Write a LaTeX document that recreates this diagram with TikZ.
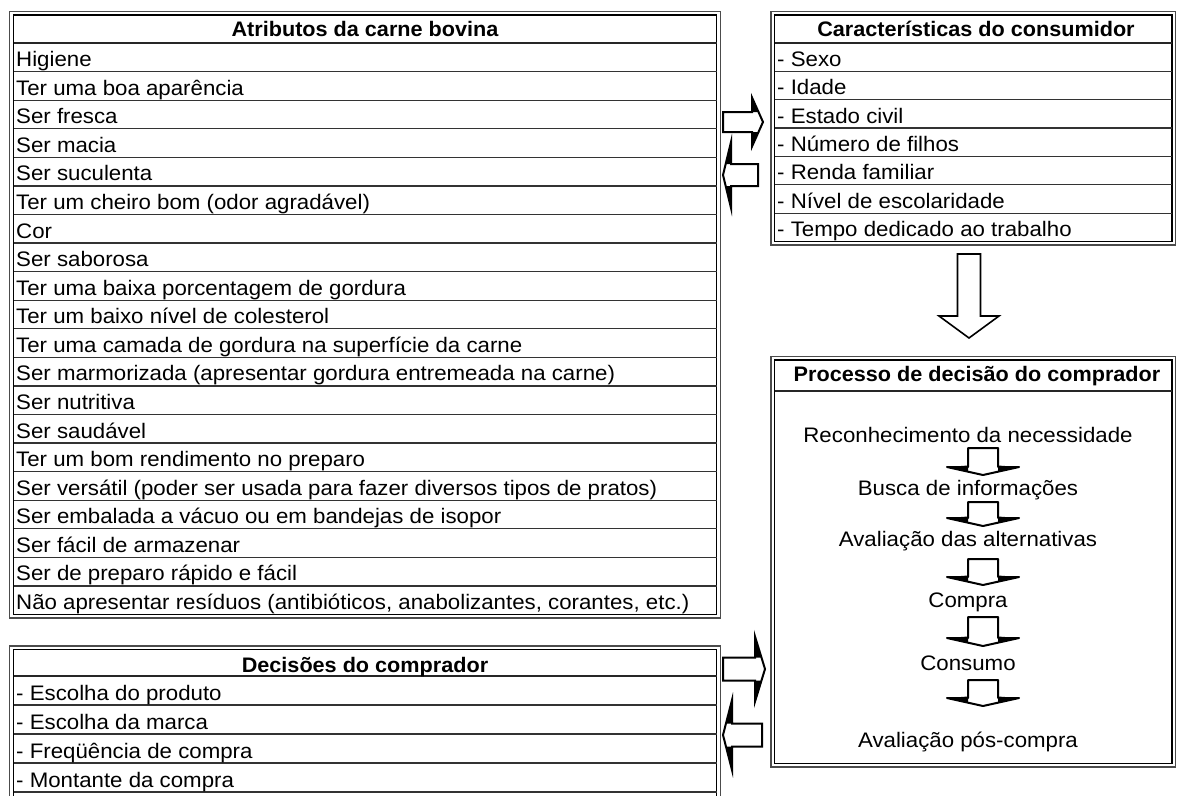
\documentclass[tikz,border=0pt]{standalone}
\usepackage{fontspec}
\setmainfont{Liberation Sans}[FakeStretch=1.06, BoldFeatures={FakeStretch=1.03}]
\begin{document}
\begin{tikzpicture}[x=1pt,y=-1pt,
  outerb/.style={draw=black!70, line width=1.6pt},
  innerb/.style={draw=black, line width=1.2pt},
  rowline/.style={draw=black!80, line width=1.3pt},
  headline/.style={draw=black!85, line width=2.4pt},
  cell/.style={anchor=base west, inner sep=0pt, font=\fontsize{21}{24}\selectfont},
  head/.style={anchor=base, inner sep=0pt, font=\fontsize{21}{24}\selectfont\bfseries},
  ctext/.style={anchor=base, inner sep=0pt, font=\fontsize{21}{24}\selectfont},
  blockarrow/.style={draw=black, fill=white, line width=2pt, line join=miter},
  bigarrow/.style={draw=black, fill=white, line width=1.6pt, line join=miter},
  wedge/.style={fill=black}
]
\path[use as bounding box] (0,0) rectangle (1177,795);
\clip (0,0) rectangle (1177,795);
\fill[white] (0,0) rectangle (1177,795);

% ---------- Table A: Atributos ----------
\draw[outerb] (9.5,11.5) rectangle (720.5,618);
\draw[innerb] (13.5,15) rectangle (716.5,614.5);
\draw[headline] (13.5,43) -- (716.5,43);
\foreach \k in {1,...,19} \draw[rowline] (13.5,{43+\k*28.575}) -- (716.5,{43+\k*28.575});
\node[head] (ha) at (365,36.5) {Atributos da carne bovina};
\foreach [count=\k from 0] \t in {Higiene, Ter uma boa aparência, Ser fresca, Ser macia, Ser suculenta,
  Ter um cheiro bom (odor agradável), Cor, Ser saborosa, Ter uma baixa porcentagem de gordura,
  Ter um baixo nível de colesterol, Ter uma camada de gordura na superfície da carne,
  Ser marmorizada (apresentar gordura entremeada na carne), Ser nutritiva, Ser saudável,
  Ter um bom rendimento no preparo, Ser versátil (poder ser usada para fazer diversos tipos de pratos),
  Ser embalada a vácuo ou em bandejas de isopor, Ser fácil de armazenar, Ser de preparo rápido e fácil,
  {Não apresentar resíduos (antibióticos, anabolizantes, corantes, etc.)}}
  \node[cell] (a\k) at (16,{43+(\k+1)*28.575-5}) {\t};

% ---------- Table B: Características ----------
\draw[outerb] (771,11.5) rectangle (1175.5,245);
\draw[innerb] (774.5,15) rectangle (1172,241.5);
\draw[headline] (774.5,43) -- (1172,43);
\foreach \k in {1,...,6} \draw[rowline] (774.5,{43+\k*28.36}) -- (1172,{43+\k*28.36});
\node[head] (hb) at (976,36.5) {Características do consumidor};
\foreach [count=\k from 0] \t in {- Sexo, - Idade, - Estado civil, - Número de filhos, - Renda familiar,
  - Nível de escolaridade, - Tempo dedicado ao trabalho}
  \node[cell] (b\k) at (777,{43+(\k+1)*28.36-5}) {\t};

% ---------- Table C: Processo ----------
\draw[outerb] (771,356.5) rectangle (1175.5,767);
\draw[innerb] (774.5,360) rectangle (1172,763.5);
\draw[headline] (774.5,391) -- (1172,391);
\node[head] (hc) at (977,381.5) {Processo de decisão do comprador};
\node[ctext] (p1) at (968,442) {Reconhecimento da necessidade};
\node[ctext] (p2) at (968,495) {Busca de informações};
\node[ctext] (p3) at (968,546) {Avaliação das alternativas};
\node[ctext] (p4) at (968,607) {Compra};
\node[ctext] (p5) at (968,670) {Consumo};
\node[ctext] (p6) at (968,747) {Avaliação pós-compra};
\foreach \tp/\wy in {448/467, 502/518, 559/577, 617/638, 680/698} {
  \draw[blockarrow, line join=round] (968,\tp) -- (968,\wy) -- (947,\wy) -- (983,{\wy+8})
     -- (1019,\wy) -- (998,\wy) -- (998,\tp) -- cycle;
  \fill[wedge] (947,\wy) -- (968,{\wy-1.5}) -- (968,{\wy+5}) -- cycle;
  \fill[wedge] (1019,\wy) -- (998,{\wy-1.5}) -- (998,{\wy+5}) -- cycle;
}

% ---------- Table D: Decisões ----------
\draw[outerb] (9.5,646) rectangle (720.5,820);
\draw[innerb] (13.5,649.5) rectangle (716.5,816);
\draw[headline] (13.5,676) -- (716.5,676);
\foreach \k in {1,...,4} \draw[rowline] (13.5,{676+\k*29}) -- (716.5,{676+\k*29});
\node[head] (hd) at (365,672) {Decisões do comprador};
\foreach [count=\k from 0] \t in {- Escolha do produto, - Escolha da marca, - Freqüência de compra, - Montante da compra}
  \node[cell] (d\k) at (16,{676+(\k+1)*29-5}) {\t};

% ---------- big down arrow B -> C ----------
\draw[bigarrow] (957.5,254) -- (957.5,316) -- (939,316) -- (969,338) -- (999,316)
   -- (980.5,316) -- (980.5,254) -- cycle;

% ---------- side arrows A <-> B ----------
\draw[blockarrow] (723,112) -- (752,112) -- (752,97.5) -- (763,122) -- (752,146.5)
   -- (752,132) -- (723,132) -- cycle;
\fill[wedge] (752,97.5) -- (752,112) -- (758.5,112) -- cycle;
\fill[wedge] (752,146.5) -- (752,132) -- (758.5,132) -- cycle;

\draw[blockarrow] (758,164) -- (731,164) -- (731,142) -- (723,175) -- (731,208)
   -- (731,186) -- (758,186) -- cycle;
\fill[wedge] (731,142) -- (731,164) -- (725.7,164) -- cycle;
\fill[wedge] (731,208) -- (731,186) -- (725.7,186) -- cycle;

% ---------- side arrows D <-> C ----------
\draw[blockarrow] (723,657.5) -- (755,657.5) -- (755,636.5) -- (765,669) -- (755,701.5)
   -- (755,680.5) -- (723,680.5) -- cycle;
\fill[wedge] (755,636.5) -- (755,657.5) -- (761.5,657.5) -- cycle;
\fill[wedge] (755,701.5) -- (755,680.5) -- (761.5,680.5) -- cycle;

\draw[blockarrow] (762,723.5) -- (732,723.5) -- (732,700) -- (723,735) -- (732,770)
   -- (732,746.5) -- (762,746.5) -- cycle;
\fill[wedge] (732,700) -- (732,723.5) -- (726,723.5) -- cycle;
\fill[wedge] (732,770) -- (732,746.5) -- (726,746.5) -- cycle;
\end{tikzpicture}
\end{document}
